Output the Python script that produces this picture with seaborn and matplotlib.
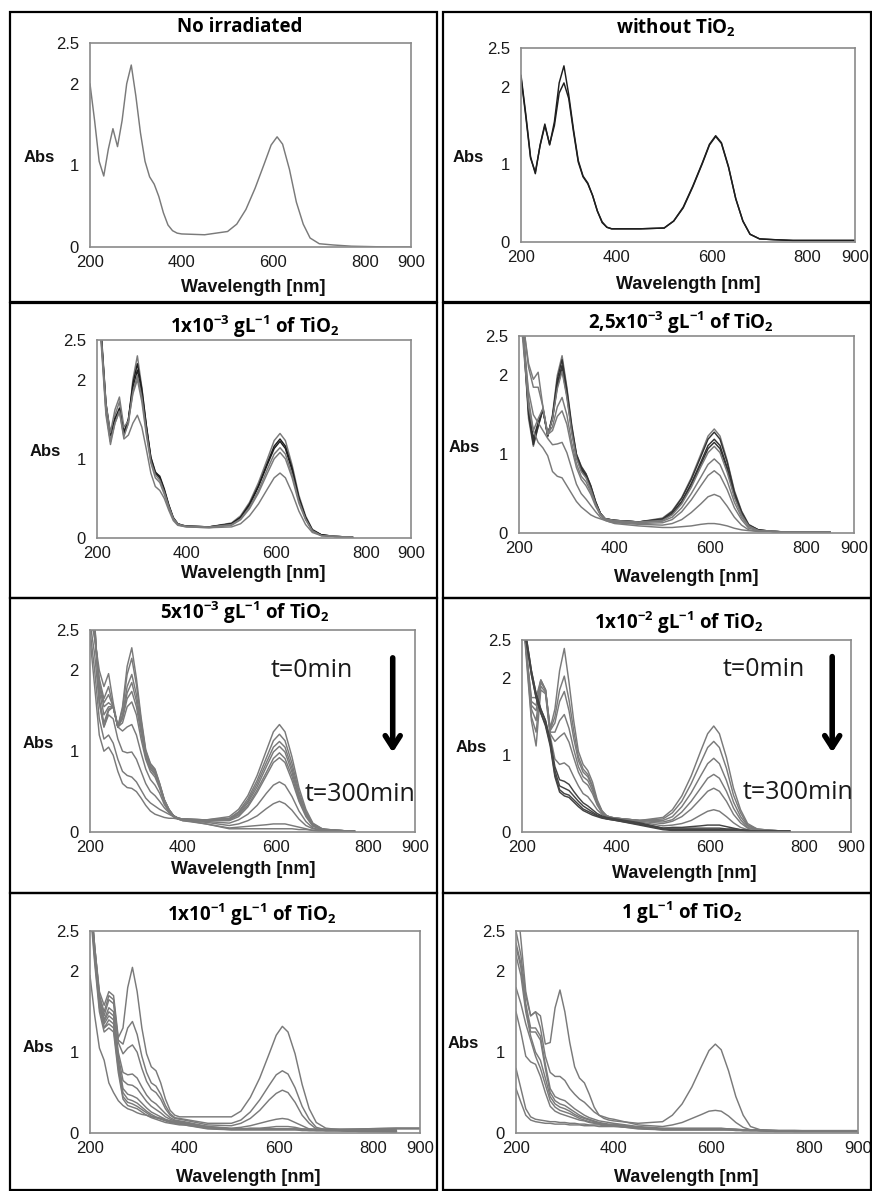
import numpy as np
import pandas as pd
import matplotlib
matplotlib.use("Agg")
import matplotlib.pyplot as plt
import seaborn as sns
from matplotlib.patches import Rectangle

nan = np.nan

# ---------------- data ----------------
WL = [200, 210, 220, 230, 240, 250, 260, 270, 280, 290, 300, 310, 320, 330, 340,
      350, 360, 370, 380, 390, 400, 450, 500, 520, 540, 560, 580, 595, 608, 620,
      635, 650, 665, 680, 700, 730, 770, 850, 900]

no_irradiated = [
    [2.00, 1.55, 1.05, 0.87, 1.20, 1.45, 1.23, 1.55, 2.00, 2.23, 1.85, 1.40, 1.05, 0.86, 0.77, 0.62, 0.42, 0.27, 0.20, 0.17, 0.16,
     0.15, 0.19, 0.28, 0.46, 0.72, 1.02, 1.25, 1.35, 1.26, 0.95, 0.55, 0.28, 0.11, 0.04, 0.025, 0.01, 0.0, 0.0],
]

without_tio2 = [
    [2.15, 1.65, 1.10, 0.88, 1.25, 1.52, 1.25, 1.55, 2.05, 2.27, 1.90, 1.45, 1.05, 0.85, 0.76, 0.60, 0.40, 0.25, 0.19, 0.17, 0.17,
     0.17, 0.18, 0.27, 0.45, 0.72, 1.02, 1.26, 1.37, 1.28, 0.97, 0.56, 0.27, 0.10, 0.04, 0.03, 0.02, 0.02, 0.02],
    [2.12, 1.62, 1.08, 0.90, 1.24, 1.50, 1.26, 1.50, 1.92, 2.05, 1.85, 1.42, 1.03, 0.84, 0.75, 0.60, 0.40, 0.26, 0.19, 0.17, 0.17,
     0.17, 0.18, 0.27, 0.44, 0.71, 1.01, 1.25, 1.36, 1.27, 0.96, 0.56, 0.27, 0.10, 0.04, 0.03, 0.02, 0.02, 0.02],
]

tio2_1e3 = [
    [3.0, 2.5, 1.6, 1.22, 1.55, 1.72, 1.30, 1.45, 2.00, 2.30, 1.90, 1.42, 1.02, 0.84, 0.76, 0.60, 0.40, 0.25, 0.18, 0.16, 0.15,
     0.14, 0.19, 0.28, 0.45, 0.70, 1.00, 1.23, 1.32, 1.23, 0.92, 0.54, 0.28, 0.11, 0.04, 0.02, 0.01, nan, nan],
    [3.0, 2.55, 1.7, 1.30, 1.50, 1.64, 1.33, 1.50, 1.95, 2.20, 1.88, 1.42, 1.02, 0.83, 0.78, 0.62, 0.42, 0.26, 0.18, 0.16, 0.15,
     0.14, 0.18, 0.26, 0.43, 0.66, 0.95, 1.16, 1.25, 1.16, 0.88, 0.51, 0.26, 0.10, 0.04, 0.02, 0.01, nan, nan],
    [3.0, 2.5, 1.68, 1.30, 1.50, 1.62, 1.33, 1.50, 1.90, 2.12, 1.83, 1.40, 1.00, 0.82, 0.76, 0.60, 0.41, 0.25, 0.18, 0.16, 0.15,
     0.14, 0.18, 0.26, 0.41, 0.65, 0.93, 1.13, 1.22, 1.13, 0.85, 0.50, 0.26, 0.10, 0.04, 0.02, 0.01, nan, nan],
    [3.0, 2.45, 1.6, 1.22, 1.45, 1.60, 1.28, 1.45, 1.85, 2.05, 1.78, 1.35, 0.97, 0.80, 0.73, 0.58, 0.40, 0.25, 0.18, 0.16, 0.15,
     0.14, 0.17, 0.24, 0.39, 0.60, 0.87, 1.06, 1.14, 1.06, 0.80, 0.47, 0.24, 0.09, 0.03, 0.02, 0.01, nan, nan],
    [3.0, 2.5, 1.7, 1.33, 1.62, 1.78, 1.40, 1.48, 1.82, 2.00, 1.72, 1.30, 0.95, 0.76, 0.70, 0.55, 0.38, 0.24, 0.17, 0.15, 0.14,
     0.13, 0.16, 0.23, 0.37, 0.57, 0.82, 1.00, 1.08, 1.00, 0.76, 0.44, 0.23, 0.09, 0.03, 0.02, 0.01, nan, nan],
    [3.0, 2.4, 1.55, 1.18, 1.45, 1.60, 1.25, 1.30, 1.45, 1.55, 1.40, 1.12, 0.82, 0.65, 0.60, 0.50, 0.35, 0.22, 0.16, 0.15, 0.14,
     0.13, 0.14, 0.18, 0.28, 0.43, 0.62, 0.76, 0.82, 0.76, 0.57, 0.34, 0.17, 0.07, 0.03, 0.02, 0.01, nan, nan],
]

tio2_25e4 = [
    [3.0, 2.4, 1.45, 1.10, 1.35, 1.57, 1.22, 1.50, 2.00, 2.25, 1.85, 1.38, 1.00, 0.85, 0.75, 0.60, 0.40, 0.25, 0.18, 0.17, 0.16,
     0.14, 0.19, 0.28, 0.45, 0.70, 1.00, 1.23, 1.32, 1.23, 0.92, 0.54, 0.28, 0.11, 0.04, 0.02, 0.01, 0.01, nan],
    [3.0, 2.4, 1.50, 1.12, 1.35, 1.57, 1.23, 1.48, 1.95, 2.20, 1.82, 1.36, 1.00, 0.84, 0.75, 0.60, 0.40, 0.25, 0.18, 0.17, 0.16,
     0.14, 0.18, 0.27, 0.44, 0.68, 0.97, 1.19, 1.28, 1.19, 0.90, 0.52, 0.27, 0.10, 0.04, 0.02, 0.01, 0.01, nan],
    [3.0, 2.45, 1.55, 1.15, 1.38, 1.57, 1.24, 1.46, 1.90, 2.13, 1.78, 1.33, 0.98, 0.82, 0.73, 0.58, 0.39, 0.25, 0.18, 0.17, 0.16,
     0.14, 0.17, 0.25, 0.40, 0.63, 0.90, 1.11, 1.19, 1.11, 0.83, 0.49, 0.25, 0.10, 0.04, 0.02, 0.01, 0.01, nan],
    [3.0, 2.45, 1.60, 1.20, 1.40, 1.57, 1.25, 1.45, 1.86, 2.08, 1.75, 1.30, 0.96, 0.80, 0.72, 0.57, 0.38, 0.24, 0.18, 0.17, 0.16,
     0.14, 0.17, 0.24, 0.39, 0.61, 0.87, 1.07, 1.15, 1.07, 0.81, 0.47, 0.24, 0.09, 0.03, 0.02, 0.01, 0.01, nan],
    [3.0, 2.5, 1.70, 1.30, 1.45, 1.58, 1.25, 1.45, 1.83, 2.05, 1.72, 1.28, 0.95, 0.78, 0.70, 0.55, 0.37, 0.24, 0.18, 0.17, 0.16,
     0.14, 0.16, 0.23, 0.37, 0.58, 0.84, 1.02, 1.10, 1.02, 0.77, 0.45, 0.23, 0.09, 0.03, 0.02, 0.01, 0.01, nan],
    [3.0, 2.6, 2.10, 1.85, 1.85, 1.60, 1.26, 1.35, 1.60, 1.72, 1.50, 1.15, 0.88, 0.72, 0.65, 0.52, 0.36, 0.24, 0.18, 0.16, 0.15,
     0.13, 0.15, 0.20, 0.32, 0.50, 0.71, 0.87, 0.94, 0.87, 0.66, 0.39, 0.20, 0.08, 0.03, 0.02, 0.01, 0.01, nan],
    [3.0, 2.6, 2.15, 1.95, 2.04, 1.60, 1.25, 1.30, 1.48, 1.55, 1.38, 1.08, 0.83, 0.68, 0.60, 0.49, 0.34, 0.23, 0.17, 0.15, 0.14,
     0.12, 0.13, 0.17, 0.27, 0.42, 0.60, 0.73, 0.79, 0.73, 0.55, 0.32, 0.17, 0.06, 0.03, 0.02, 0.01, 0.01, nan],
    [3.0, 2.4, 1.80, 1.50, 1.40, 1.30, 1.20, 1.12, 1.13, 1.15, 1.02, 0.82, 0.62, 0.50, 0.43, 0.35, 0.27, 0.20, 0.16, 0.14, 0.13,
     0.11, 0.10, 0.12, 0.17, 0.26, 0.37, 0.46, 0.49, 0.46, 0.34, 0.20, 0.10, 0.04, 0.02, 0.02, 0.01, 0.01, nan],
    [3.0, 2.3, 1.60, 1.30, 1.15, 1.08, 0.98, 0.78, 0.72, 0.70, 0.60, 0.50, 0.40, 0.33, 0.28, 0.23, 0.20, 0.18, 0.16, 0.14, 0.12,
     0.09, 0.07, 0.07, 0.08, 0.09, 0.11, 0.12, 0.12, 0.11, 0.09, 0.06, 0.04, 0.03, 0.02, 0.02, 0.01, 0.01, nan],
]

tio2_5e3 = [
    [3.0, 2.6, 1.6, 1.3, 1.5, 1.55, 1.3, 1.55, 2.05, 2.28, 1.9, 1.42, 1.02, 0.85, 0.78, 0.6, 0.4, 0.28, 0.2, 0.17, 0.16,
     0.15, 0.19, 0.28, 0.45, 0.70, 1.01, 1.24, 1.33, 1.24, 0.93, 0.55, 0.28, 0.11, 0.04, 0.02, 0.01, nan, nan],
    [3.0, 2.6, 1.65, 1.35, 1.52, 1.55, 1.3, 1.52, 1.95, 2.15, 1.82, 1.38, 1.0, 0.84, 0.77, 0.6, 0.4, 0.28, 0.2, 0.17, 0.16,
     0.15, 0.17, 0.25, 0.41, 0.64, 0.92, 1.13, 1.21, 1.13, 0.85, 0.50, 0.25, 0.10, 0.04, 0.02, 0.01, nan, nan],
    [3.0, 2.55, 1.75, 1.45, 1.55, 1.55, 1.3, 1.45, 1.8, 1.95, 1.7, 1.32, 0.98, 0.82, 0.75, 0.58, 0.4, 0.28, 0.2, 0.17, 0.16,
     0.15, 0.16, 0.24, 0.38, 0.60, 0.86, 1.05, 1.12, 1.05, 0.79, 0.46, 0.24, 0.09, 0.03, 0.02, 0.01, nan, nan],
    [3.0, 2.5, 1.8, 1.55, 1.6, 1.55, 1.3, 1.42, 1.72, 1.85, 1.62, 1.28, 0.96, 0.8, 0.73, 0.57, 0.39, 0.27, 0.2, 0.17, 0.16,
     0.15, 0.16, 0.22, 0.36, 0.56, 0.81, 0.99, 1.06, 0.99, 0.74, 0.43, 0.22, 0.08, 0.03, 0.02, 0.01, nan, nan],
    [2.9, 2.45, 1.85, 1.6, 1.7, 1.55, 1.3, 1.4, 1.65, 1.74, 1.55, 1.22, 0.93, 0.78, 0.71, 0.56, 0.38, 0.27, 0.2, 0.17, 0.16,
     0.14, 0.15, 0.21, 0.33, 0.52, 0.74, 0.91, 0.98, 0.91, 0.69, 0.40, 0.21, 0.08, 0.03, 0.02, 0.01, nan, nan],
    [2.8, 2.4, 1.9, 1.65, 1.8, 1.55, 1.3, 1.35, 1.55, 1.61, 1.45, 1.15, 0.9, 0.75, 0.68, 0.54, 0.37, 0.26, 0.2, 0.17, 0.16,
     0.14, 0.14, 0.19, 0.31, 0.49, 0.70, 0.86, 0.92, 0.86, 0.64, 0.38, 0.19, 0.07, 0.03, 0.02, 0.01, nan, nan],
    [2.7, 2.4, 2.0, 1.8, 1.96, 1.6, 1.3, 1.25, 1.3, 1.33, 1.2, 0.98, 0.78, 0.65, 0.58, 0.48, 0.34, 0.25, 0.19, 0.16, 0.15,
     0.13, 0.11, 0.15, 0.22, 0.33, 0.48, 0.58, 0.62, 0.58, 0.44, 0.26, 0.13, 0.05, 0.02, 0.02, 0.01, nan, nan],
    [2.6, 2.2, 1.6, 1.3, 1.45, 1.4, 1.15, 1.0, 0.98, 0.99, 0.9, 0.75, 0.6, 0.5, 0.45, 0.38, 0.3, 0.24, 0.19, 0.16, 0.14,
     0.12, 0.08, 0.10, 0.14, 0.20, 0.29, 0.35, 0.38, 0.35, 0.27, 0.16, 0.08, 0.04, 0.02, 0.02, 0.01, nan, nan],
    [2.5, 2.0, 1.4, 1.15, 1.2, 1.1, 0.9, 0.75, 0.7, 0.68, 0.62, 0.52, 0.42, 0.36, 0.32, 0.28, 0.25, 0.22, 0.19, 0.16, 0.14,
     0.10, 0.05, 0.06, 0.07, 0.08, 0.09, 0.10, 0.10, 0.10, 0.08, 0.06, 0.04, 0.02, 0.01, 0.01, 0.01, nan, nan],
    [2.4, 1.8, 1.2, 1.0, 1.05, 0.95, 0.75, 0.6, 0.55, 0.54, 0.5, 0.42, 0.33, 0.26, 0.22, 0.2, 0.18, 0.17, 0.17, 0.16, 0.15,
     0.10, 0.04, 0.04, 0.04, 0.04, 0.04, 0.04, 0.04, 0.04, 0.04, 0.03, 0.03, 0.02, 0.01, 0.01, 0.01, nan, nan],
]

tio2_1e2 = [
    [3.0, 2.3, 1.75, 1.75, 1.98, 1.85, 1.35, 1.6, 2.1, 2.39, 1.95, 1.45, 1.05, 0.88, 0.8, 0.65, 0.42, 0.28, 0.21, 0.19, 0.18,
     0.15, 0.19, 0.29, 0.47, 0.73, 1.05, 1.28, 1.38, 1.28, 0.97, 0.57, 0.29, 0.11, 0.04, 0.02, 0.01, nan, nan],
    [3.0, 2.3, 1.7, 1.65, 1.98, 1.85, 1.33, 1.5, 1.85, 2.03, 1.72, 1.32, 0.98, 0.82, 0.75, 0.6, 0.4, 0.27, 0.21, 0.19, 0.18,
     0.15, 0.17, 0.25, 0.40, 0.63, 0.90, 1.10, 1.18, 1.10, 0.83, 0.48, 0.25, 0.09, 0.04, 0.02, 0.01, nan, nan],
    [3.0, 2.3, 1.65, 1.58, 1.97, 1.85, 1.32, 1.42, 1.7, 1.83, 1.58, 1.22, 0.93, 0.78, 0.72, 0.58, 0.39, 0.27, 0.21, 0.19, 0.18,
     0.15, 0.15, 0.20, 0.33, 0.51, 0.73, 0.89, 0.96, 0.89, 0.67, 0.39, 0.20, 0.08, 0.03, 0.02, 0.01, nan, nan],
    [3.0, 2.3, 1.6, 1.45, 1.95, 1.85, 1.3, 1.3, 1.45, 1.53, 1.35, 1.08, 0.85, 0.72, 0.67, 0.54, 0.37, 0.26, 0.21, 0.19, 0.18,
     0.15, 0.13, 0.16, 0.26, 0.40, 0.57, 0.70, 0.75, 0.70, 0.53, 0.31, 0.16, 0.06, 0.03, 0.02, 0.01, nan, nan],
    [3.0, 2.25, 1.5, 1.3, 1.9, 1.82, 1.28, 1.18, 1.24, 1.29, 1.17, 0.97, 0.78, 0.66, 0.61, 0.5, 0.35, 0.25, 0.2, 0.19, 0.18,
     0.14, 0.11, 0.14, 0.20, 0.30, 0.43, 0.53, 0.57, 0.53, 0.40, 0.23, 0.12, 0.05, 0.02, 0.02, 0.01, nan, nan],
    [3.0, 2.2, 1.45, 1.12, 1.85, 1.8, 1.25, 0.95, 0.88, 0.9, 0.85, 0.72, 0.6, 0.5, 0.46, 0.38, 0.29, 0.23, 0.2, 0.18, 0.17,
     0.13, 0.08, 0.09, 0.11, 0.15, 0.22, 0.27, 0.29, 0.27, 0.20, 0.12, 0.06, 0.03, 0.02, 0.02, 0.01, nan, nan],
    [2.8, 2.5, 2.1, 1.8, 1.6, 1.45, 1.2, 0.85, 0.68, 0.66, 0.62, 0.53, 0.45, 0.38, 0.34, 0.29, 0.24, 0.21, 0.19, 0.18, 0.17,
     0.12, 0.05, 0.06, 0.06, 0.07, 0.08, 0.09, 0.09, 0.09, 0.07, 0.05, 0.03, 0.02, 0.01, 0.01, 0.01, nan, nan],
    [2.8, 2.5, 2.1, 1.8, 1.6, 1.45, 1.18, 0.8, 0.6, 0.57, 0.54, 0.47, 0.4, 0.34, 0.3, 0.26, 0.22, 0.2, 0.18, 0.17, 0.16,
     0.11, 0.05, 0.05, 0.05, 0.05, 0.05, 0.05, 0.05, 0.05, 0.04, 0.04, 0.03, 0.02, 0.01, 0.01, 0.01, nan, nan],
    [2.8, 2.45, 2.05, 1.75, 1.55, 1.4, 1.15, 0.75, 0.55, 0.5, 0.48, 0.42, 0.36, 0.3, 0.27, 0.24, 0.21, 0.19, 0.17, 0.16, 0.15,
     0.10, 0.04, 0.03, 0.03, 0.03, 0.03, 0.03, 0.03, 0.03, 0.03, 0.03, 0.02, 0.02, 0.01, 0.01, 0.01, nan, nan],
    [2.8, 2.45, 2.05, 1.75, 1.55, 1.38, 1.12, 0.72, 0.52, 0.47, 0.45, 0.39, 0.33, 0.28, 0.25, 0.22, 0.2, 0.18, 0.17, 0.16, 0.15,
     0.09, 0.03, 0.02, 0.02, 0.02, 0.02, 0.02, 0.02, 0.02, 0.02, 0.02, 0.02, 0.01, 0.01, 0.01, 0.01, nan, nan],
]

tio2_1e1 = [
    [3.0, 2.3, 1.75, 1.58, 1.75, 1.70, 1.18, 1.30, 1.80, 2.05, 1.75, 1.30, 0.98, 0.82, 0.77, 0.62, 0.42, 0.28, 0.22, 0.20, 0.20,
     0.20, 0.20, 0.27, 0.44, 0.68, 0.98, 1.21, 1.32, 1.25, 0.98, 0.60, 0.30, 0.13, 0.06, 0.04, 0.03, 0.03, nan],
    [3.0, 2.3, 1.7, 1.5, 1.7, 1.65, 1.15, 1.1, 1.3, 1.38, 1.22, 0.95, 0.75, 0.62, 0.58, 0.48, 0.34, 0.24, 0.19, 0.18, 0.17,
     0.12, 0.12, 0.16, 0.26, 0.41, 0.59, 0.72, 0.77, 0.73, 0.56, 0.33, 0.17, 0.07, 0.04, 0.03, 0.03, 0.02, nan],
    [3.0, 2.3, 1.7, 1.45, 1.65, 1.6, 1.12, 0.98, 1.05, 1.09, 1.0, 0.8, 0.64, 0.54, 0.5, 0.42, 0.3, 0.22, 0.18, 0.17, 0.16,
     0.10, 0.09, 0.12, 0.18, 0.28, 0.41, 0.49, 0.53, 0.50, 0.38, 0.22, 0.12, 0.05, 0.03, 0.03, 0.02, 0.02, nan],
    [3.0, 2.25, 1.65, 1.4, 1.55, 1.5, 1.0, 0.75, 0.72, 0.73, 0.68, 0.57, 0.47, 0.4, 0.36, 0.3, 0.24, 0.19, 0.16, 0.15, 0.14,
     0.08, 0.06, 0.07, 0.09, 0.12, 0.15, 0.17, 0.18, 0.17, 0.13, 0.09, 0.05, 0.04, 0.03, 0.03, 0.03, 0.05, 0.05],
    [3.0, 2.2, 1.6, 1.38, 1.5, 1.45, 0.95, 0.65, 0.6, 0.59, 0.55, 0.47, 0.39, 0.33, 0.29, 0.25, 0.2, 0.17, 0.15, 0.14, 0.13,
     0.07, 0.05, 0.05, 0.06, 0.06, 0.07, 0.08, 0.08, 0.08, 0.07, 0.05, 0.04, 0.03, 0.03, 0.03, 0.02, 0.02, nan],
    [3.0, 2.2, 1.6, 1.35, 1.45, 1.4, 0.9, 0.55, 0.48, 0.46, 0.43, 0.37, 0.31, 0.26, 0.23, 0.2, 0.17, 0.15, 0.14, 0.13, 0.12,
     0.07, 0.05, 0.05, 0.05, 0.05, 0.05, 0.05, 0.05, 0.05, 0.05, 0.04, 0.04, 0.04, 0.04, 0.04, 0.05, 0.06, 0.06],
    [2.9, 2.2, 1.6, 1.3, 1.4, 1.35, 0.85, 0.5, 0.42, 0.4, 0.37, 0.32, 0.27, 0.23, 0.2, 0.18, 0.16, 0.14, 0.13, 0.12, 0.11,
     0.06, 0.05, 0.05, 0.05, 0.05, 0.05, 0.05, 0.05, 0.05, 0.05, 0.04, 0.04, 0.04, 0.04, 0.04, 0.04, 0.04, nan],
    [2.9, 2.15, 1.55, 1.3, 1.35, 1.3, 0.8, 0.45, 0.38, 0.36, 0.33, 0.29, 0.25, 0.21, 0.19, 0.17, 0.15, 0.13, 0.12, 0.11, 0.1,
     0.06, 0.04, 0.04, 0.04, 0.04, 0.04, 0.04, 0.04, 0.04, 0.04, 0.04, 0.03, 0.03, 0.03, 0.03, 0.02, 0.01, nan],
    [2.8, 2.1, 1.5, 1.25, 1.3, 1.25, 0.75, 0.42, 0.34, 0.32, 0.3, 0.26, 0.22, 0.19, 0.17, 0.15, 0.13, 0.12, 0.11, 0.1, 0.1,
     0.05, 0.04, 0.04, 0.04, 0.04, 0.04, 0.04, 0.04, 0.04, 0.04, 0.03, 0.03, 0.03, 0.03, 0.03, 0.02, 0.02, nan],
    [1.95, 1.45, 1.05, 0.9, 0.62, 0.5, 0.4, 0.34, 0.3, 0.28, 0.25, 0.23, 0.22, 0.2, 0.19, 0.18, 0.16, 0.15, 0.14, 0.13, 0.12,
     0.08, 0.05, 0.05, 0.05, 0.05, 0.05, 0.05, 0.05, 0.05, 0.05, 0.05, 0.05, 0.05, 0.05, 0.05, 0.05, 0.06, 0.06],
]

tio2_1 = [
    [3.0, 2.4, 1.75, 1.45, 1.5, 1.45, 1.1, 1.12, 1.55, 1.77, 1.5, 1.12, 0.82, 0.68, 0.62, 0.48, 0.32, 0.22, 0.18, 0.16, 0.15,
     0.12, 0.14, 0.22, 0.36, 0.57, 0.83, 1.02, 1.10, 1.03, 0.77, 0.45, 0.22, 0.08, 0.04, 0.03, 0.02, 0.02, 0.02],
    [2.5, 2.2, 1.7, 1.45, 1.5, 1.3, 0.95, 0.75, 0.7, 0.7, 0.65, 0.55, 0.48, 0.42, 0.38, 0.32, 0.26, 0.22, 0.2, 0.18, 0.17,
     0.10, 0.08, 0.10, 0.13, 0.18, 0.23, 0.27, 0.28, 0.27, 0.21, 0.13, 0.07, 0.04, 0.03, 0.02, 0.02, 0.02, 0.02],
    [2.35, 2.1, 1.6, 1.3, 1.3, 1.2, 0.85, 0.55, 0.45, 0.42, 0.4, 0.35, 0.3, 0.26, 0.22, 0.19, 0.17, 0.15, 0.14, 0.13, 0.12,
     0.08, 0.06, 0.06, 0.06, 0.06, 0.06, 0.06, 0.06, 0.06, 0.05, 0.05, 0.04, 0.04, 0.03, 0.03, 0.03, 0.02, 0.02],
    [2.3, 2.05, 1.55, 1.25, 1.25, 1.15, 0.8, 0.5, 0.4, 0.36, 0.34, 0.3, 0.26, 0.22, 0.19, 0.17, 0.15, 0.13, 0.12, 0.11, 0.11,
     0.07, 0.05, 0.05, 0.05, 0.05, 0.05, 0.05, 0.05, 0.05, 0.05, 0.04, 0.04, 0.04, 0.03, 0.03, 0.03, 0.02, 0.02],
    [2.2, 1.95, 1.5, 1.2, 1.0, 0.9, 0.68, 0.45, 0.36, 0.32, 0.3, 0.27, 0.23, 0.2, 0.18, 0.16, 0.14, 0.12, 0.11, 0.1, 0.1,
     0.06, 0.05, 0.05, 0.05, 0.05, 0.05, 0.05, 0.05, 0.05, 0.04, 0.04, 0.04, 0.03, 0.03, 0.03, 0.02, 0.02, 0.02],
    [1.8, 1.6, 1.35, 1.15, 0.95, 0.8, 0.6, 0.4, 0.32, 0.28, 0.26, 0.24, 0.21, 0.18, 0.16, 0.14, 0.13, 0.12, 0.11, 0.1, 0.09,
     0.06, 0.04, 0.04, 0.04, 0.04, 0.04, 0.04, 0.04, 0.04, 0.04, 0.04, 0.03, 0.03, 0.03, 0.02, 0.02, 0.02, 0.02],
    [1.5, 1.25, 0.95, 0.88, 0.85, 0.7, 0.5, 0.33, 0.27, 0.24, 0.22, 0.2, 0.18, 0.16, 0.15, 0.13, 0.12, 0.11, 0.1, 0.09, 0.09,
     0.05, 0.04, 0.04, 0.04, 0.04, 0.04, 0.04, 0.04, 0.04, 0.04, 0.03, 0.03, 0.03, 0.03, 0.02, 0.02, 0.02, 0.02],
    [0.8, 0.55, 0.3, 0.2, 0.17, 0.16, 0.15, 0.14, 0.14, 0.13, 0.13, 0.12, 0.12, 0.11, 0.11, 0.1, 0.1, 0.1, 0.09, 0.09, 0.09,
     0.07, 0.05, 0.05, 0.05, 0.05, 0.05, 0.05, 0.05, 0.05, 0.05, 0.04, 0.04, 0.04, 0.04, 0.03, 0.03, 0.03, 0.03],
    [0.55, 0.38, 0.22, 0.16, 0.14, 0.13, 0.12, 0.12, 0.11, 0.11, 0.11, 0.1, 0.1, 0.1, 0.09, 0.09, 0.09, 0.08, 0.08, 0.08, 0.08,
     0.06, 0.04, 0.04, 0.04, 0.04, 0.04, 0.04, 0.04, 0.04, 0.04, 0.04, 0.03, 0.03, 0.03, 0.03, 0.02, 0.02, 0.02],
]

titles = [
    "No irradiated",
    "without TiO$_2$",
    "1x10$^{-3}$ gL$^{-1}$ of TiO$_2$",
    "2,5x10$^{-3}$ gL$^{-1}$ of TiO$_2$",
    "5x10$^{-3}$ gL$^{-1}$ of TiO$_2$",
    "1x10$^{-2}$ gL$^{-1}$ of TiO$_2$",
    "1x10$^{-1}$ gL$^{-1}$ of TiO$_2$",
    "1 gL$^{-1}$ of TiO$_2$",
]
x_ticks = [200, 400, 600, 800, 900]
y_ticks = [0, 1, 2, 2.5]
y_ticklabels = ["0", "1", "2", "2.5"]

# ---------------- styling / layout ----------------
sns.set_theme(style="white")
plt.rcParams['font.family'] = ['Liberation Sans', 'DejaVu Sans']
plt.rcParams['mathtext.fontset'] = 'custom'
plt.rcParams['mathtext.rm'] = 'Open Sans:bold'
plt.rcParams['mathtext.it'] = 'Open Sans:bold'
plt.rcParams['mathtext.bf'] = 'Open Sans:bold'

W, H = 872, 1191
fig = plt.figure(figsize=(W / 100, H / 100), dpi=100)
fig.patch.set_facecolor('white')

GRAY = '#7a7a7a'
DARK = '#1e1e1e'

panels = [
    dict(data=no_irradiated, box=(90, 43, 411, 247), title=(240, 27), abs=(39, 157), wl=(253, 288),
         colors=[GRAY]),
    dict(data=without_tio2, box=(521, 48, 855, 242), title=(676, 28), abs=(468, 158), wl=(688, 285),
         colors=[DARK, DARK]),
    dict(data=tio2_1e3, box=(97, 340, 411, 538), title=(255, 327), abs=(45, 452), wl=(253, 573),
         colors=[GRAY, DARK, DARK, GRAY, GRAY, GRAY]),
    dict(data=tio2_25e4, box=(519, 336, 854, 533), title=(681, 323), abs=(464, 448), wl=(686, 577),
         colors=[GRAY, '#333333', '#333333', '#333333', GRAY, GRAY, GRAY, GRAY, GRAY]),
    dict(data=tio2_5e3, box=(90, 630, 415, 832), title=(245, 613), abs=(38, 743), wl=(243, 870),
         colors=[GRAY] * 10),
    dict(data=tio2_1e2, box=(522, 640, 851, 832), title=(679, 623), abs=(471, 748), wl=(684, 874),
         colors=[GRAY] * 6 + ['#444444'] * 4),
    dict(data=tio2_1e1, box=(90, 931, 420, 1133), title=(252, 915), abs=(38, 1047), wl=(248, 1178),
         colors=[GRAY] * 10),
    dict(data=tio2_1, box=(516, 931, 858, 1133), title=(682, 913), abs=(463, 1043), wl=(686, 1178),
         colors=[GRAY] * 9),
]

for i, p in enumerate(panels):
    x0, y0, x1, y1 = p['box']
    ax = fig.add_axes([x0 / W, 1 - y1 / H, (x1 - x0) / W, (y1 - y0) / H])
    rows = []
    for ci, curve in enumerate(p['data']):
        for w, v in zip(WL, curve):
            if not np.isnan(v):
                rows.append((w, v, f"c{ci}"))
    df = pd.DataFrame(rows, columns=['wl', 'abs', 'curve'])
    pal = {f"c{ci}": c for ci, c in enumerate(p['colors'])}
    sns.lineplot(data=df, x='wl', y='abs', hue='curve', palette=pal, estimator=None,
                 sort=False, legend=False, linewidth=1.05, ax=ax)
    ax.set_xlim(200, 900)
    ax.set_ylim(0, 2.5)
    ax.set_xticks(x_ticks)
    ax.set_xticklabels([str(t) for t in x_ticks])
    ax.set_xticks([300, 500, 700], minor=True)
    ax.set_yticks(y_ticks)
    ax.set_yticklabels(y_ticklabels)
    ax.set_yticks([0.5, 1.5], minor=True)
    ax.tick_params(which='major', direction='in', length=9, width=1.0, color='#8a8a8a',
                   labelsize=12, labelcolor='#1a1a1a')
    ax.tick_params(axis='x', which='major', pad=6)
    ax.tick_params(axis='y', which='major', pad=8)
    ax.tick_params(which='minor', direction='in', length=5, width=1.0, color='#8a8a8a')
    ax.set_xlabel('')
    ax.set_ylabel('')
    for s in ax.spines.values():
        s.set_color('#8a8a8a')
        s.set_linewidth(1.2)
    ax.set_facecolor('white')

    fig.text(p['title'][0] / W, 1 - p['title'][1] / H, titles[i], ha='center', va='center',
             fontsize=13.5, fontweight='bold', family='Open Sans', color='black')
    fig.text(p['abs'][0] / W, 1 - p['abs'][1] / H, 'Abs', ha='center', va='center',
             fontsize=12, fontweight='bold', color='#111111')
    fig.text(p['wl'][0] / W, 1 - p['wl'][1] / H, 'Wavelength [nm]', ha='center', va='center',
             fontsize=13, fontweight='bold', color='#111111')

    if i in (4, 5):
        if i == 4:
            ax_x, t0, t300 = 852, (678, 2.0), (781, 0.46)
            ya, yb = 2.19, 0.95
        else:
            ax_x, t0, t300 = 860, (715, 2.11), (787, 0.52)
            ya, yb = 2.32, 1.0
        ax.text(t0[0], t0[1], 't=0min', ha='center', va='center', fontsize=18,
                family='Open Sans', color='#1a1a1a')
        ax.text(t300[0], t300[1], 't=300min', ha='center', va='center', fontsize=18,
                family='Open Sans', color='#1a1a1a')
        ax.annotate('', xy=(ax_x, yb), xytext=(ax_x, ya), annotation_clip=False,
                    arrowprops=dict(arrowstyle='->,head_length=0.7,head_width=0.45',
                                    lw=4, color='black'))

# panel frames
rows_y = [(12, 302), (303, 598), (598, 893), (893, 1190)]
cols_x = [(10, 437), (443, 871)]
for (ya, yb) in rows_y:
    for (xa, xb) in cols_x:
        fig.add_artist(Rectangle((xa / W, 1 - yb / H), (xb - xa) / W, (yb - ya) / H,
                                 transform=fig.transFigure, fill=False, ec='black', lw=1.6))

fig.savefig('out.png', dpi=100, facecolor='white')
